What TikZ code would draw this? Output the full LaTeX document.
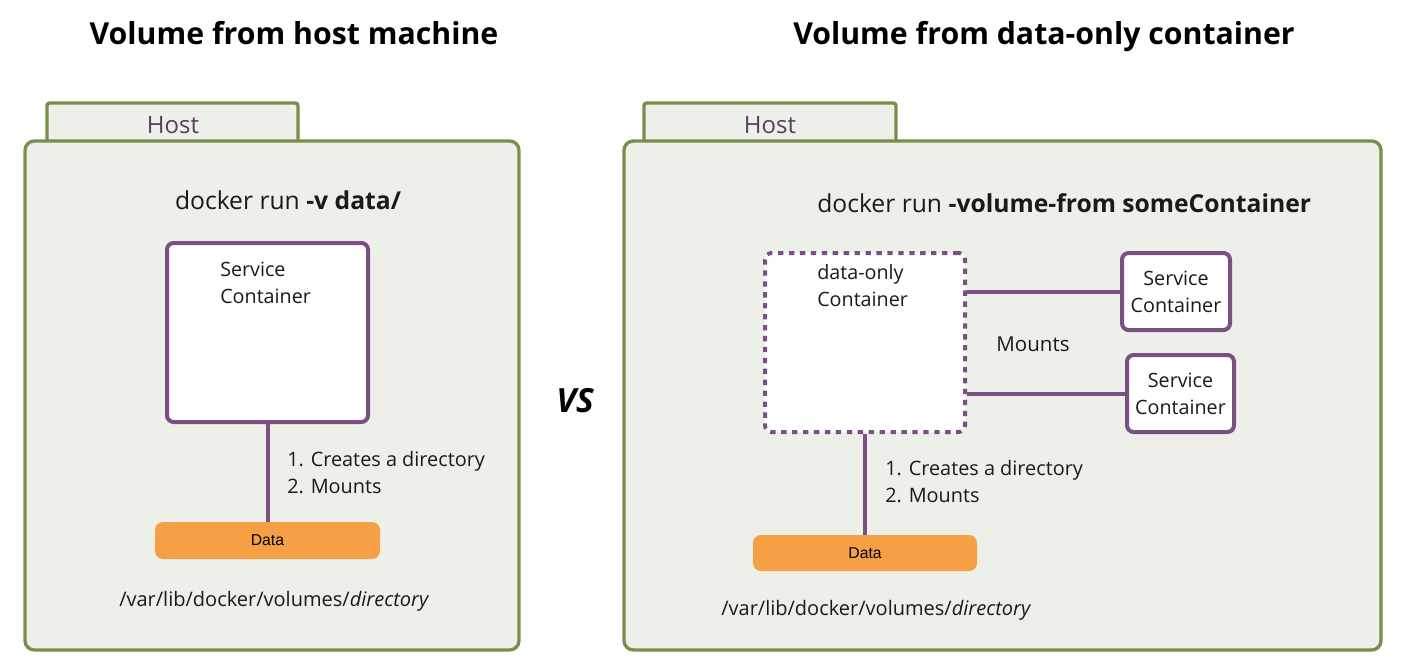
\documentclass[tikz,border=0pt]{standalone}
\usepackage{fontspec}
\setmainfont{Open Sans}
\newfontfamily\arialf{Liberation Sans}
\usetikzlibrary{fit}
\definecolor{hostgreen}{HTML}{76904A}
\definecolor{hostfill}{HTML}{EDF0E8}
\definecolor{cpurple}{HTML}{7B4F83}
\definecolor{hosttext}{HTML}{5C3B5F}
\definecolor{dataorange}{HTML}{F5A045}
\definecolor{txt}{HTML}{1A1A1A}
\tikzset{
  hosttab/.style={draw=hostgreen, fill=hostfill, line width=2.5pt, rounded corners=2pt, inner sep=0pt},
  hostbox/.style={draw=hostgreen, fill=hostfill, line width=2.5pt, rounded corners=7pt, inner sep=0pt},
  svcbox/.style={draw=cpurple, fill=white, line width=3pt, rounded corners=5pt, inner sep=0pt},
  dobox/.style={draw=cpurple, fill=white, line width=3pt, dash pattern=on 4pt off 4.2pt, rounded corners=5pt, inner sep=0pt},
  databox/.style={fill=dataorange, rounded corners=6pt, inner sep=0pt},
  link/.style={draw=cpurple, line width=3pt},
  titletext/.style={font=\fontsize{22.7}{27}\selectfont\bfseries, text=black, inner sep=0pt, text depth=0pt},
  hostlabel/.style={font=\fontsize{18}{22}\selectfont, text=hosttext, inner sep=0pt},
  cmdtext/.style={font=\fontsize{18.5}{22}\selectfont, text=txt, inner sep=0pt},
  boxtext/.style={font=\fontsize{14.8}{20.3}\selectfont, text=txt, inner sep=0pt, align=left},
  ctrtext/.style={font=\fontsize{14.8}{20.3}\selectfont, text=txt, inner sep=0pt, align=center},
  steptext/.style={font=\fontsize{14.9}{20.5}\selectfont, text=txt, inner sep=0pt, align=left},
  pathtext/.style={font=\fontsize{15}{18}\selectfont, text=txt, inner sep=0pt},
  mountstext/.style={font=\fontsize{15.4}{18}\selectfont, text=txt, inner sep=0pt},
  datatext/.style={font=\arialf\fontsize{11.8}{14}\selectfont, text=black, inner sep=0pt},
}
\begin{document}
\begin{tikzpicture}[x=0.75pt, y=-0.75pt]
\useasboundingbox (0,0) rectangle (1402,668);
\fill[white] (0,0) rectangle (1402,668);

% titles
\node[titletext] (t1) at (294,33) {Volume from host machine};
\node[titletext] (t2) at (1044,33) {Volume from data-only container};
\node[font=\fontsize{25}{30}\selectfont\bfseries\itshape, inner sep=0pt] (vs) at (575,401) {VS};

% ---------- left panel ----------
\node[hosttab, fit={(47,103)(298,150)}] (tabL) {};
\node[hostbox, fit={(25,141)(519,650)}] (hostL) {};
\node[hostlabel] (hostLt) at (173,125) {Host};
\node[cmdtext] (cmdL) at (288,200) {docker run \textbf{-v data/}};
\node[svcbox, fit={(167,243)(368,422)}] (svcL) {};
\node[boxtext, anchor=north west] (svcLt) at (220,262) {Service\\Container};
\node[databox, fit={(155,522)(380,559)}] (dataL) {};
\node[datatext] (dataLt) at (dataL.center) {Data};
\draw[link] (svcL.south) -- (dataL.north);
\node[steptext, anchor=north west] (stepsL) at (287,451) {1. Creates a directory\\2. Mounts};
\node[pathtext, anchor=west] (pathL) at (119,601) {/var/lib/docker/volumes/\textit{directory}};

% ---------- right panel ----------
\node[hosttab, fit={(644,103)(896,150)}] (tabR) {};
\node[hostbox, fit={(624,141)(1381,650)}] (hostR) {};
\node[hostlabel] (hostRt) at (770,125) {Host};
\node[cmdtext, anchor=west] (cmdR) at (817,203) {docker run \textbf{-volume-from someContainer}};
\node[dobox, fit={(765,253)(965,432)}] (dataOnly) {};
\node[boxtext, anchor=north west] (dataOnlyt) at (817,264) {data-only\\Container};
\node[svcbox, fit={(1122,253)(1230,330)}] (svcR1) {};
\node[ctrtext] (svcR1t) at (svcR1.center) {Service\\Container};
\node[svcbox, fit={(1127,355)(1234,432)}] (svcR2) {};
\node[ctrtext] (svcR2t) at (svcR2.center) {Service\\Container};
\draw[link] (svcR1.west) -- (svcR1.west -| dataOnly.east);
\draw[link] (svcR2.west) -- (svcR2.west -| dataOnly.east);
\node[mountstext] (mounts) at (1033,344) {Mounts};
\node[databox, fit={(753,535)(977,571)}] (dataR) {};
\node[datatext] (dataRt) at (dataR.center) {Data};
\draw[link] (dataOnly.south) -- (dataR.north);
\node[steptext, anchor=north west] (stepsR) at (885,460) {1. Creates a directory\\2. Mounts};
\node[pathtext, anchor=west] (pathR) at (721,610) {/var/lib/docker/volumes/\textit{directory}};
\end{tikzpicture}
\end{document}
